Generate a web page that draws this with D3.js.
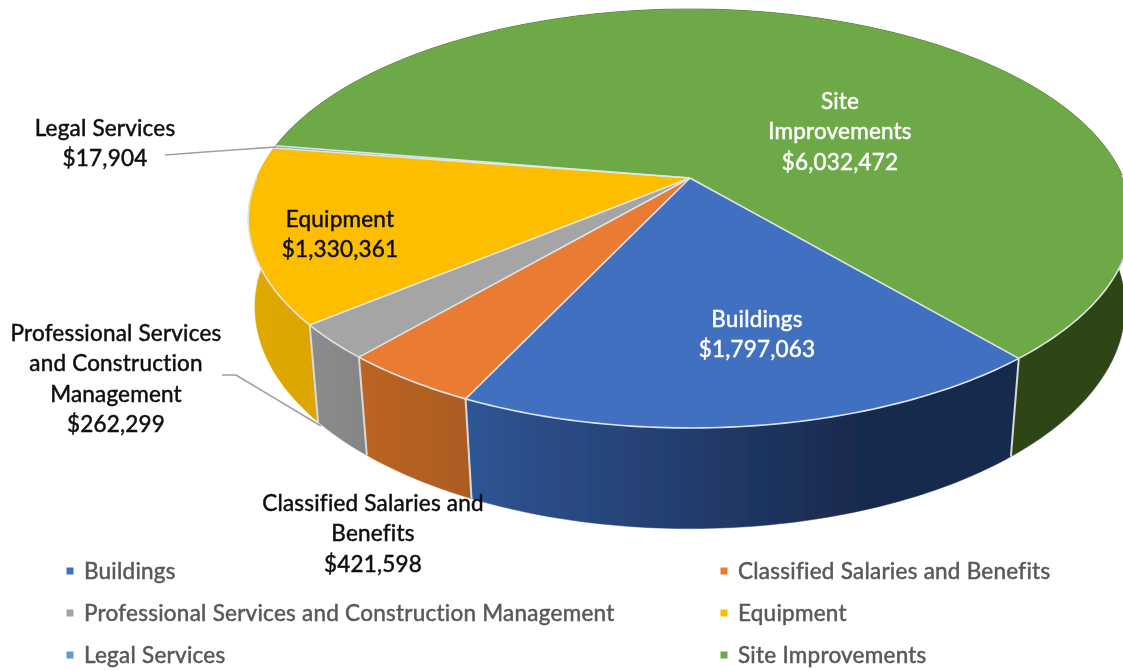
<!DOCTYPE html>
<html><head><meta charset="utf-8">
<script src="https://cdn.jsdelivr.net/npm/d3@7"></script>
<style>
html,body{margin:0;padding:0;background:#fff;overflow:hidden}
svg{display:block}
text{font-family:Lato,"Open Sans",sans-serif;}
</style></head><body>
<svg id="c" width="1123" height="671"></svg>
<script>
const categories=["Buildings","Classified Salaries and Benefits","Professional Services and Construction Management","Equipment","Legal Services","Site Improvements"];
const values=[1797063,421598,262299,1330361,17904,6032472];
const topColors=["#4270c0","#e97b30","#a5a5a5","#fdbe00","#5b9bd5","#6ea947"];
const wallStart=["#2f5595","#bb6422","#8c8c8c","#dfa900","#3f6f9a","#2f4a1c"];
const wallEnd=["#19294d","#ac5c20","#858585","#dca600","#3f6f9a","#2d4418"];
const labelLines=[["Buildings"],["Classified Salaries and","Benefits"],["Professional Services","and Construction","Management"],["Equipment"],["Legal Services"],["Site","Improvements"]];
const labelColors=["#fff","#111","#111","#111","#111","#fff"];
const labelCentre=[[757,320],[373,504],[116,334],[340,220],[105,129],[840,102]];
const legendOrder=[0,1,2,3,4,5];
const legendCols=[70,724], legendRows=[571,613,655];

const svg=d3.select("#c");
const defs=svg.append("defs");
const blur=defs.append("filter").attr("id","soft").attr("x","-5%").attr("y","-5%").attr("width","110%").attr("height","110%");
blur.append("feGaussianBlur").attr("stdDeviation",0.65);
const root=svg.append("g").attr("filter","url(#soft)");

// perspective projection of the pie disc: upper and lower rims
const cx=690,cy=178;
const upper={R:433.5,S:201.7,k:0.193,drop:0};
const lowerRim={R:428,S:214.5,k:0.18,drop:89};
const start=139.7*Math.PI/180;
const proj=(a,lower)=>{
  const m=lower?lowerRim:upper;
  const x=Math.sin(a),y=-Math.cos(a),w=1-m.k*y;
  return [cx+m.R*x/w,cy+m.drop+m.S*y/w];
};
const arcs=d3.pie().sort(null).startAngle(start).endAngle(start+2*Math.PI)(values);
const line=d3.line();
const angleSteps=(a0,a1)=>{
  const n=Math.max(3,Math.ceil((a1-a0)*60));
  return d3.range(n+1).map(i=>a0+(a1-a0)*i/n);
};
const rim=(d,lower)=>angleSteps(d.startAngle,d.endAngle).map(a=>proj(a,lower));

// walls
const walls=root.append("g");
arcs.forEach((d,i)=>{
  const t=rim(d,false),b=rim(d,true).reverse();
  const xs=t.concat(b).map(p=>p[0]);
  let x1=d3.min(xs),x2=d3.max(xs);
  if(i===0){x2=x1+(x2-x1)*0.72;}
  const g=defs.append("linearGradient").attr("id","w"+i).attr("gradientUnits","userSpaceOnUse")
    .attr("x1",x1).attr("x2",x2).attr("y1",0).attr("y2",0);
  g.append("stop").attr("offset",0).attr("stop-color",wallStart[i]);
  g.append("stop").attr("offset",1).attr("stop-color",wallEnd[i]);
  walls.append("path").attr("d",line(t.concat(b))+"Z").attr("fill",`url(#w${i})`).attr("stroke",`url(#w${i})`).attr("stroke-width",0.5);
});
// vertical seams on visible side
arcs.forEach(d=>{
  const a=d.startAngle;
  if(-Math.cos(a)>0.2) walls.append("path").attr("d",line([proj(a,false),proj(a,true)])).attr("stroke","#d9d9d9").attr("stroke-width",2).attr("fill","none");
});
// top faces
const tops=root.append("g");
arcs.forEach((d,i)=>{
  const pts=[[cx,cy]].concat(rim(d,false));
  tops.append("path").attr("d",line(pts)+"Z").attr("fill",topColors[i]);
});
// light edges: spokes everywhere, rim only where it meets a wall
arcs.forEach(d=>{
  tops.append("path").attr("d",line([[cx,cy],proj(d.startAngle,false)])).attr("stroke","#dfe6ea").attr("stroke-width",1.6).attr("fill","none");
  const front=angleSteps(d.startAngle,d.endAngle).filter(a=>-Math.cos(a)>-0.02);
  if(front.length>1) tops.append("path").attr("d",line(front.map(a=>proj(a,false)))).attr("stroke","#dfe6ea").attr("stroke-width",1.6).attr("fill","none");
});

// leader lines
const legalEnd=proj(arcs[4].startAngle,false);
const leaderLegal=[[165,155],[205,152],[legalEnd[0]+2,legalEnd[1]-1]];
const leaderProf=[[222,375],[236,375],[321,426]];
[leaderLegal,leaderProf].forEach(l=>root.append("path").attr("d",line(l)).attr("fill","none").attr("stroke","#a0a0a0").attr("stroke-width",1.6));

// data labels
const money=d3.format("$,");
const fs=22.5,lh=30.3;
arcs.forEach((d,i)=>{
  const lines=labelLines[i].concat([money(values[i])]);
  const t=root.append("text").attr("text-anchor","middle").attr("fill",labelColors[i])
    .attr("font-size",fs).attr("letter-spacing",0.2).attr("stroke",labelColors[i]).attr("stroke-width",0.5);
  lines.forEach((s,j)=>t.append("tspan").attr("x",labelCentre[i][0]).attr("y",labelCentre[i][1]+7+j*lh).text(s));
});

// legend
legendOrder.forEach((c,i)=>{
  const x=legendCols[i%2],y=legendRows[Math.floor(i/2)];
  root.append("rect").attr("x",x-3.5).attr("y",y-3.5).attr("width",7).attr("height",7).attr("fill",topColors[c]);
  root.append("text").attr("x",x+14).attr("y",y+8).attr("font-size",22.5).attr("letter-spacing",0.25).attr("fill","#595959")
    .attr("stroke","#595959").attr("stroke-width",0.5).text(categories[c]);
});
</script>
</body></html>
